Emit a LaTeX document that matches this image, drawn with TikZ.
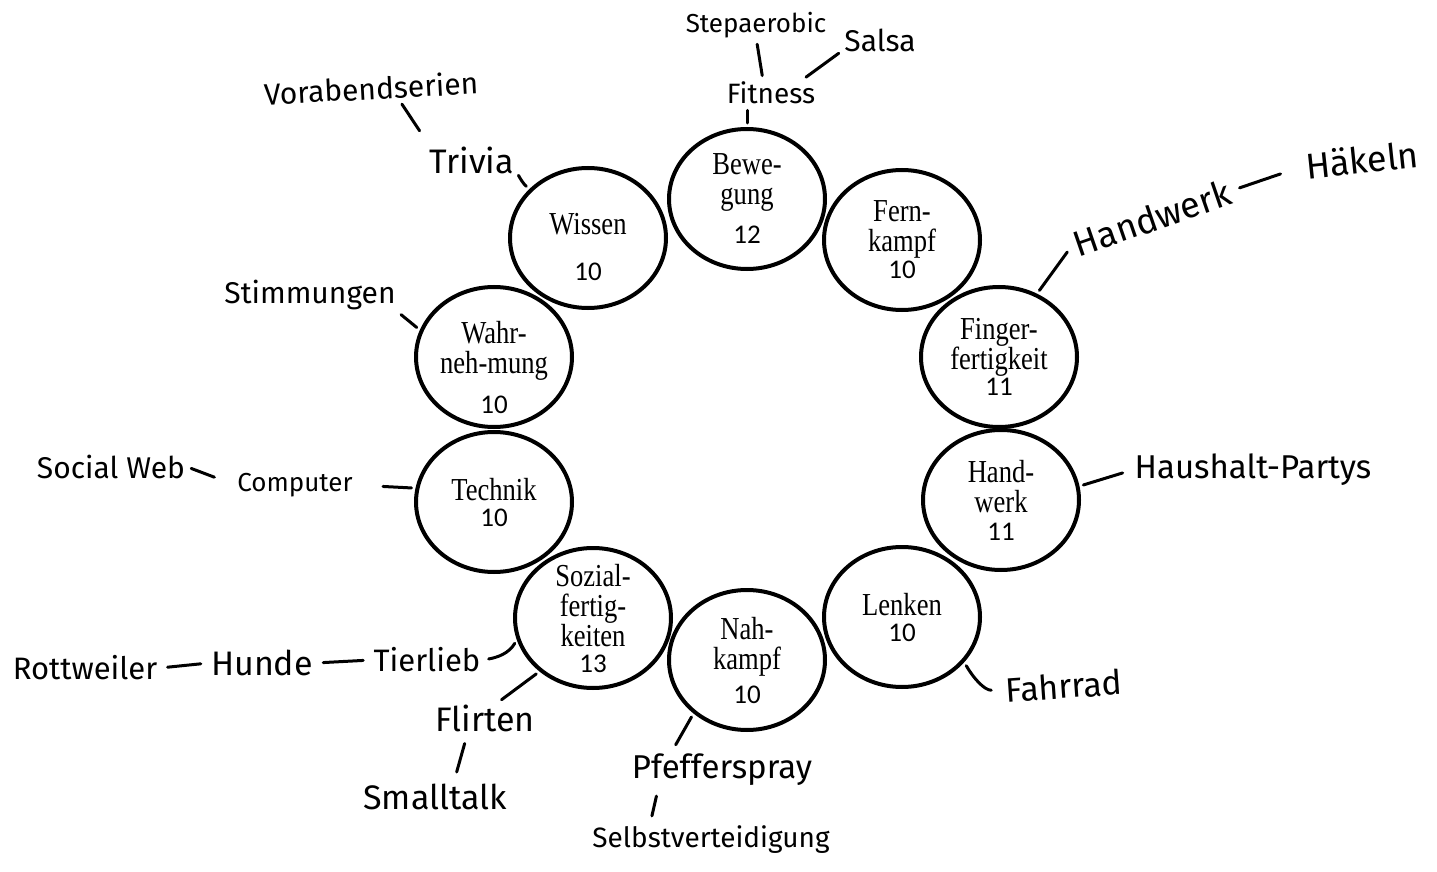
\documentclass[tikz,border=0pt]{standalone}
\usepackage{fontspec}
\setmainfont{Liberation Serif}[FakeStretch=0.83]
\newfontfamily\numfont{Carlito}
\newfontfamily\handfont{Fira Sans}
\usetikzlibrary{shapes.geometric}

\tikzset{
  ring/.style={ellipse, draw, line width=2pt, minimum width=78pt, minimum height=70pt, inner sep=0pt},
  lbl/.style={align=center, font=\fontsize{16}{15}\selectfont, inner sep=0pt},
  hand/.style={font=\handfont\fontsize{#1}{#1}\selectfont, inner sep=1pt},
  hand/.default=16,
  link/.style={line width=1.5pt, line cap=round, shorten <=2pt, shorten >=2pt}
}

\begin{document}
\begin{tikzpicture}[x=0.5pt, y=-0.5pt]
\useasboundingbox (0,0) rectangle (1437,872);
% skills
\node[ring, label={[lbl]center:Bewe-\\gung\\[4.5pt]{\numfont\fontsize{13.5}{15}\selectfont 12}}] (bew) at (747,199) {};
\node[ring, label={[lbl]center:Fern-\\kampf\\[-1.5pt]{\numfont\fontsize{13.5}{15}\selectfont 10}}] (fern) at (902,240) {};
\node[ring, label={[lbl]center:Finger-\\fertigkeit\\[-2pt]{\numfont\fontsize{13.5}{15}\selectfont 11}}] (fin) at (999,357) {};
\node[ring, label={[lbl]center:Hand-\\werk\\[-1pt]{\numfont\fontsize{13.5}{15}\selectfont 11}}] (hwk) at (1001,500) {};
\node[ring, label={[lbl]center:Lenken\\[-2pt]{\numfont\fontsize{13.5}{15}\selectfont 10}}] (lenk) at (902,617) {};
\node[ring, label={[lbl]center:Nah-\\kampf\\[2pt]{\numfont\fontsize{13.5}{15}\selectfont 10}}] (nah) at (747,660) {};
\node[ring, label={[lbl]center:Sozial-\\fertig-\\keiten\\[-2pt]{\numfont\fontsize{13.5}{15}\selectfont 13}}] (soz) at (593,618) {};
\node[ring, label={[lbl]center:Technik\\[-2pt]{\numfont\fontsize{13.5}{15}\selectfont 10}}] (tech) at (494,502) {};
\node[ring, label={[lbl,yshift=-5pt]center:Wahr-\\neh-mung\\[5pt]{\numfont\fontsize{13.5}{15}\selectfont 10}}] (wahr) at (494,357) {};
\node[ring, label={[lbl,yshift=-4.5pt]center:Wissen\\[8pt]{\numfont\fontsize{13.5}{15}\selectfont 10}}] (wis) at (588,238) {};

% notes
\node[hand=13] (stepae) at (756,25) {Stepaerobic};
\node[hand=15] (salsa) at (880,40) {Salsa};
\node[hand=14] (fitness) at (771,93) {Fitness};
\node[hand=15, rotate=3] (vorab) at (371,88) {Vorabendserien};
\node[hand=17] (trivia) at (472,160) {Trivia};
\node[hand=18, rotate=19] (handw) at (1152,218) {Handwerk};
\node[hand=18, rotate=6] (haekeln) at (1362,160) {Häkeln};
\node[hand=15] (stimm) at (310,295) {Stimmungen};
\node[hand=15] (socweb) at (111,467) {Social Web};
\node[hand=13] (computer) at (295,485) {Computer};
\node[hand=16.5] (haushalt) at (1253,470) {Haushalt-Partys};
\node[hand=17, rotate=4] (fahrrad) at (1064,686) {Fahrrad};
\node[hand=15.5] (rottw) at (85,668) {Rottweiler};
\node[hand=17] (hunde) at (262,663) {Hunde};
\node[hand=15.5] (tierlieb) at (427,660) {Tierlieb};
\node[hand=17] (flirten) at (485,718) {Flirten};
\node[hand=17] (smalltalk) at (435,797) {Smalltalk};
\node[hand=16.5] (pfeff) at (722,770) {Pfefferspray};
\node[hand=14] (selbst) at (711,840) {Selbstverteidigung};

% strokes
\draw[link] (bew.north) -- (fitness.south -| bew.north);
\draw[link] (stepae.-88) -- (fitness.121);
\draw[link] (fitness.23) -- (salsa.196);
\draw[link, shorten >=8pt] (vorab.-27) -- (trivia.160);
\draw[link] (trivia.-15) to[out=-60, in=140] (wis.140);
\draw[link, shorten >=4pt] (fin.59) -- (handw.west);
\draw[link, shorten <=4pt, shorten >=12pt] (handw.east) -- (haekeln.west);
\draw[link] (stimm.-11) -- (wahr.160);
\draw[link, shorten >=14pt] (tech.170) -- (computer.east);
\draw[link, shorten >=11pt] (socweb.east) -- (computer.west);
\draw[link, shorten >=5pt] (hwk.10) -- (haushalt.west);
\draw[link, shorten >=6pt] (lenk.-36) to[out=-60, in=180] (fahrrad.west);
\draw[link, shorten <=3pt] (tierlieb.east) to[out=10, in=240] (soz.196);
\draw[link] (soz.225) -- (flirten.50);
\draw[link, shorten <=5pt, shorten >=5pt] (flirten.222) -- (smalltalk.39);
\draw[link, shorten >=4pt] (nah.225) -- (pfeff.160);
\draw[link, shorten <=4pt, shorten >=4pt] (pfeff.196) -- (selbst.165);
\draw[link, shorten <=4pt, shorten >=4pt] (rottw.east) -- (hunde.west);
\draw[link, shorten <=4pt, shorten >=4pt] (hunde.east) -- (tierlieb.west);
\end{tikzpicture}
\end{document}
